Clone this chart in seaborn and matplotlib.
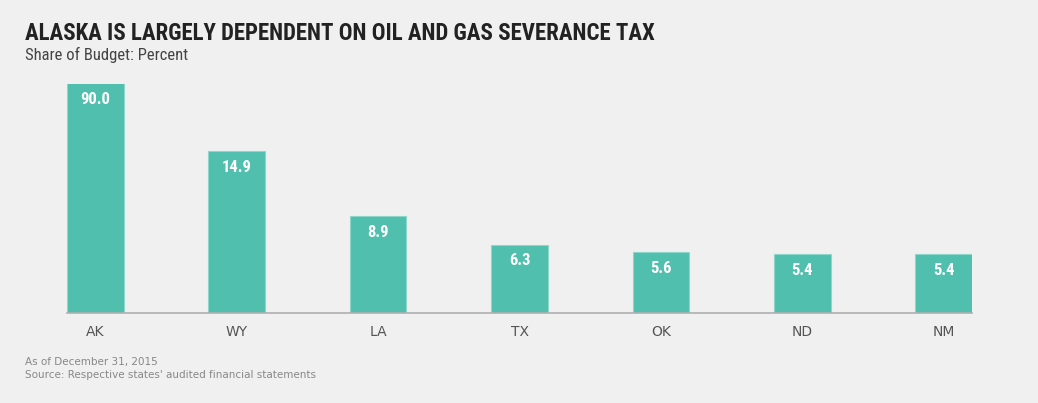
import matplotlib
matplotlib.use("Agg")
import matplotlib.pyplot as plt
from matplotlib import font_manager
import seaborn as sns

states = ["AK", "WY", "LA", "TX", "OK", "ND", "NM"]
share = [90.0, 14.9, 8.9, 6.3, 5.6, 5.4, 5.4]
labels = ["90.0", "14.9", "8.9", "6.3", "5.6", "5.4", "5.4"]

bg = "#f0f0f0"
teal = "#50bfae"

names = {f.name for f in font_manager.fontManager.ttflist}
narrow = "DejaVu Sans"
for cand in ["Roboto Condensed", "DejaVu Sans Condensed", "Open Sans Condensed",
             "Liberation Sans Narrow", "Noto Sans Condensed"]:
    if cand in names:
        narrow = cand
        break
condensed = narrow != "DejaVu Sans"

sns.set_style("white")
plt.rcParams["font.family"] = ["DejaVu Sans"]

fig = plt.figure(figsize=(10.38, 4.03), dpi=100, facecolor=bg)
ax = fig.add_axes([67 / 1038, 90 / 403, 905 / 1038, 229 / 403], facecolor=bg)

sns.barplot(x=states, y=share, color=teal, width=0.4, ax=ax,
            edgecolor="#8fd6ca", linewidth=0.8, saturation=1)

# AK runs off the chart, the rest sit on a linear scale
top = 21.07
ax.set_ylim(0, top)
ax.set_xlim(-0.2, len(states) - 0.8)

for i, (v, lab) in enumerate(zip(share, labels)):
    ax.annotate(lab, (i, min(v, top)), xytext=(0, -11.5), textcoords="offset points",
                ha="center", va="center", color="white", fontsize=12,
                fontweight="bold", family=narrow)

for s in ["top", "right", "left"]:
    ax.spines[s].set_visible(False)
ax.spines["bottom"].set_color("#b0b0b0")
ax.spines["bottom"].set_linewidth(1.2)
ax.set_yticks([])
ax.tick_params(axis="x", length=0, pad=9, labelsize=10, labelcolor="#555555")

fig.text(25 / 1038, 1 - 34 / 403, "ALASKA IS LARGELY DEPENDENT ON OIL AND GAS SEVERANCE TAX",
         fontsize=16.5 if condensed else 12.6, fontweight="bold", family=narrow,
         color="#222222", va="center")
fig.text(25 / 1038, 1 - 55 / 403, "Share of Budget: Percent",
         fontsize=12 if condensed else 10, family=narrow, color="#444444", va="center")
fig.text(25 / 1038, 1 - 362 / 403, "As of December 31, 2015",
         fontsize=7.5, color="#888888", va="center")
fig.text(25 / 1038, 1 - 375 / 403, "Source: Respective states' audited financial statements",
         fontsize=7.5, color="#888888", va="center")

fig.savefig("out.png", dpi=100, facecolor=bg)
